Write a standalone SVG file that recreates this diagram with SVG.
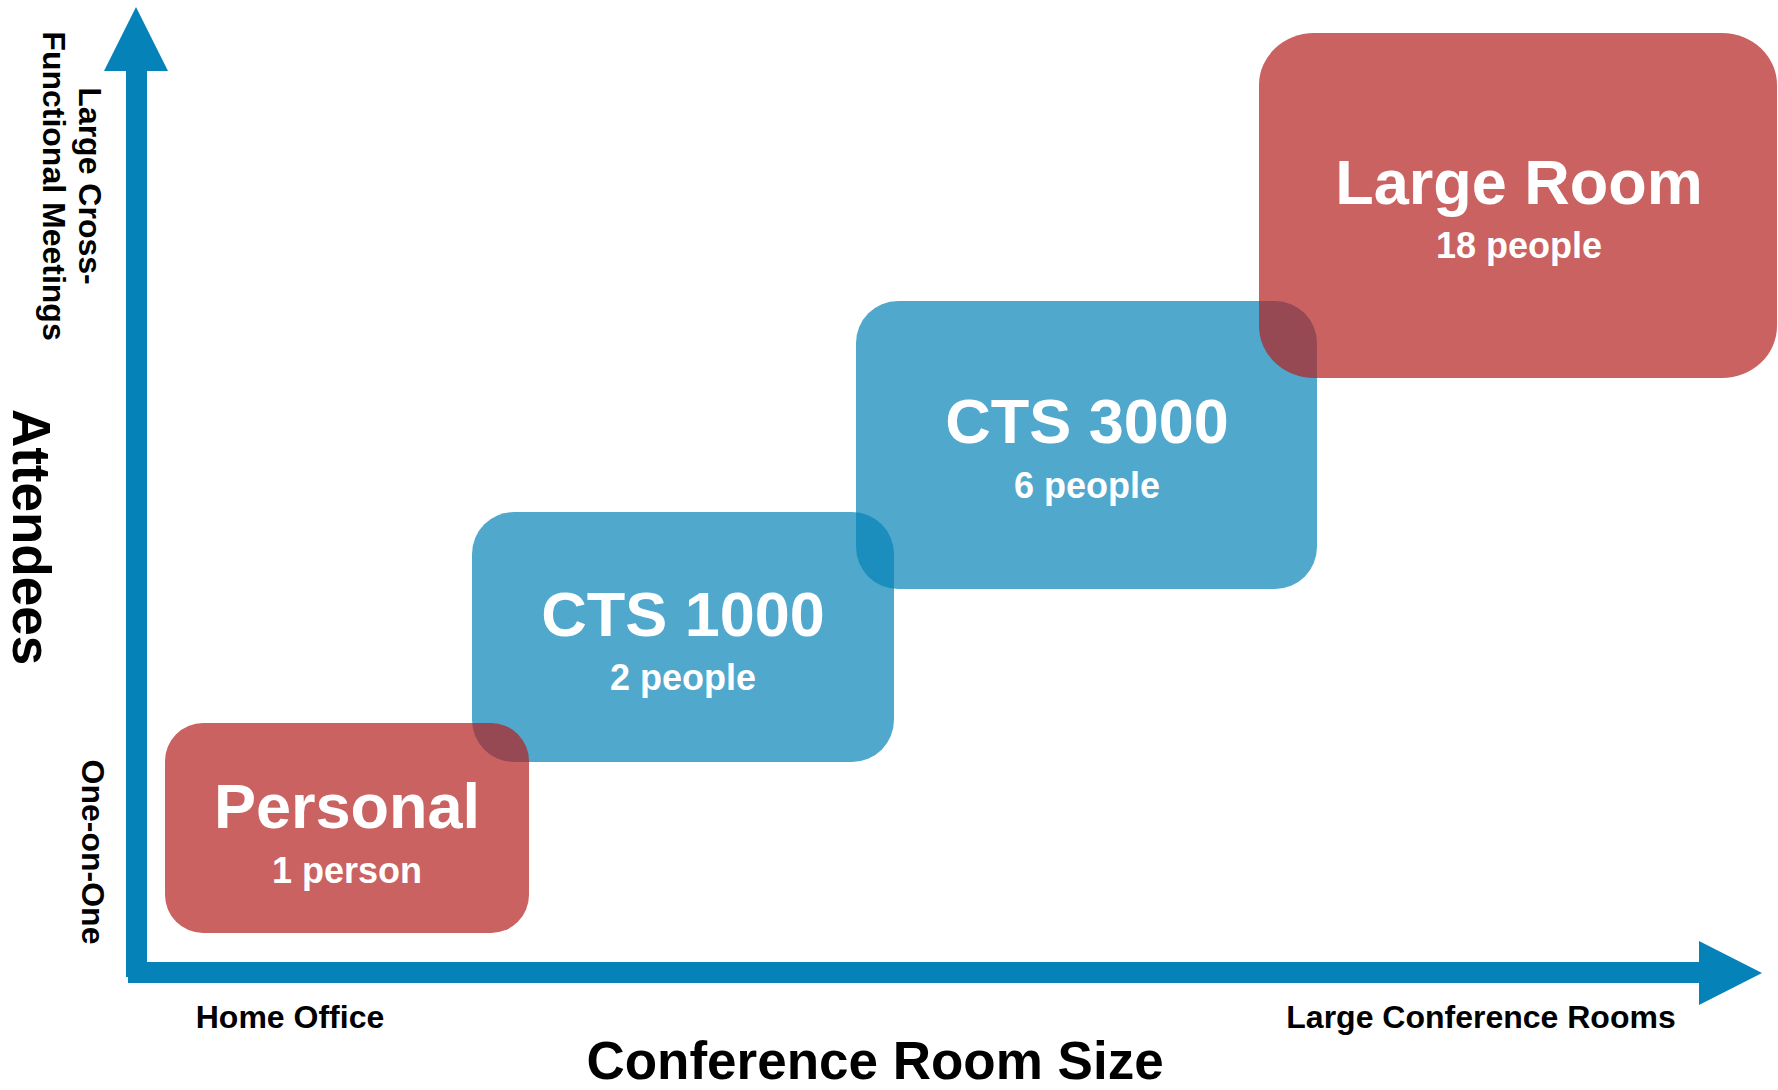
<svg xmlns="http://www.w3.org/2000/svg" width="1778" height="1090" viewBox="0 0 1778 1090">
  <style>
    text { font-family: "Liberation Sans", Arial, sans-serif; font-weight: bold; }
    .lbl { fill: #000000; font-size: 32px; }
    .axtitle { fill: #000000; font-size: 53px; }
    .title { fill: #ffffff; font-size: 63px; text-anchor: middle; }
    .sub { fill: #ffffff; font-size: 36px; text-anchor: middle; }
    .red { fill: #B31F1F; fill-opacity: 0.7; }
    .blue { fill: #0583B8; fill-opacity: 0.7; }
    .axis { fill: #0583B8; }
  </style>
  <rect width="1778" height="1090" fill="#ffffff"/>

  <g id="connectors">
    <g id="y-axis">
      <rect class="axis" x="126" y="70" width="21" height="907"/>
      <polygon class="axis" points="136,7 168,71 104,71"/>
    </g>
    <g id="x-axis">
      <rect class="axis" x="128" y="962" width="1572" height="21"/>
      <polygon class="axis" points="1699,941 1762,973 1699,1005"/>
    </g>
  </g>

  <g id="axis-labels">
    <text class="axtitle" text-anchor="middle" transform="translate(13,537) rotate(90)">Attendees</text>
    <text class="lbl" text-anchor="middle" transform="translate(79,186) rotate(90)">Large Cross-</text>
    <text class="lbl" text-anchor="middle" transform="translate(43,186) rotate(90)">Functional Meetings</text>
    <text class="lbl" text-anchor="middle" transform="translate(82,852) rotate(90)">One-on-One</text>
    <text class="lbl" text-anchor="middle" x="290" y="1028">Home Office</text>
    <text class="lbl" text-anchor="middle" x="1481" y="1028">Large Conference Rooms</text>
    <text class="axtitle" text-anchor="middle" x="875" y="1079">Conference Room Size</text>
  </g>

  <g id="node-cts1000">
    <rect class="blue" x="472" y="512" width="422" height="250" rx="42" ry="42"/>
    <text class="title" x="683" y="636">CTS 1000</text>
    <text class="sub" x="683" y="690">2 people</text>
  </g>

  <g id="node-cts3000">
    <rect class="blue" x="856" y="301" width="461" height="288" rx="42" ry="42"/>
    <text class="title" x="1087" y="443">CTS 3000</text>
    <text class="sub" x="1087" y="498">6 people</text>
  </g>

  <g id="node-personal">
    <rect class="red" x="165" y="723" width="364" height="210" rx="38" ry="38"/>
    <text class="title" x="347" y="828">Personal</text>
    <text class="sub" x="347" y="883">1 person</text>
  </g>

  <g id="node-large-room">
    <rect class="red" x="1259" y="33" width="518" height="345" rx="55" ry="52"/>
    <text class="title" x="1519" y="204">Large Room</text>
    <text class="sub" x="1519" y="258">18 people</text>
  </g>
</svg>
